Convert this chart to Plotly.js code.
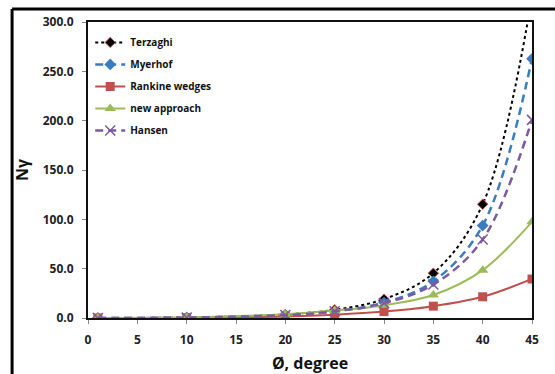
<!DOCTYPE html>
<html><head><meta charset="utf-8">
<script src="https://cdn.plot.ly/plotly-3.0.1.min.js"></script>
<style>html,body{margin:0;padding:0;background:#fff;}#chart{width:555px;height:374px;}</style>
</head><body><div id="chart"></div>
<script>
const phi = [1, 10, 20, 25, 30, 35, 40, 45];
const terzaghi = [0.01, 0.56, 3.64, 8.34, 19.13, 45.41, 115.31, 325.34];
const myerhof = [0.0, 0.37, 2.87, 6.77, 15.67, 37.15, 93.69, 262.74];
const rankine = [0.0, 0.3, 1.6, 3.4, 6.5, 12.0, 21.5, 39.5];
const newApproach = [0.0, 0.6, 3.9, 7.5, 13.0, 23.3, 48.5, 97.5];
const hansen = [0.0, 0.39, 2.95, 6.76, 15.07, 33.92, 79.54, 200.81];
const seriesNames = ['Terzaghi', 'Myerhof', 'Rankine wedges', 'new approach', 'Hansen'];
const yTicks = [0, 50, 100, 150, 200, 250, 300];
const xTicks = [0, 5, 10, 15, 20, 25, 30, 35, 40, 45];

const F = '"Open Sans", "Liberation Sans", Arial, sans-serif';
const traces = [
  {x: phi, y: terzaghi, name: seriesNames[0], legendgroup: 'a', mode: 'lines+markers', line: {color: '#000', dash: 'dot', width: 2, shape: 'spline'},
   marker: {symbol: 'diamond', size: 8, color: '#000', line: {color: '#e05050', width: 1}}},
  {x: phi, y: myerhof, name: seriesNames[1], legendgroup: 'b', mode: 'lines+markers', line: {color: '#3a7cc2', dash: '8px,5px', width: 2.5, shape: 'spline'},
   marker: {symbol: 'diamond', size: 9, color: '#3a7cc2'}},
  {x: phi, y: rankine, name: seriesNames[2], legendgroup: 'c', mode: 'lines+markers', line: {color: '#c0504d', width: 2, shape: 'spline'},
   marker: {symbol: 'square', size: 9, color: '#c0504d'}},
  {x: phi, y: newApproach, name: seriesNames[3], legendgroup: 'd', mode: 'lines+markers', line: {color: '#9bbb59', width: 2, shape: 'spline'},
   marker: {symbol: 'triangle-up', size: 10, color: '#9bbb59'}},
  {x: phi, y: hansen, name: seriesNames[4], legendgroup: 'e', mode: 'lines+markers', line: {color: '#7a5aa0', dash: '8px,5px', width: 2.5, shape: 'spline'},
   marker: {symbol: 'x-thin', size: 10, color: '#7a5aa0', line: {color: '#7a5aa0', width: 1.5}}}
];
const layout = {
  width: 555, height: 374,
  margin: {l: 88, r: 23, t: 22, b: 56},
  paper_bgcolor: '#fff', plot_bgcolor: '#fff',
  font: {family: F, color: '#222', size: 12},
  showlegend: true,
  legend: {x: 0.005, y: 0.98, xanchor: 'left', yanchor: 'top', bgcolor: 'rgba(0,0,0,0)',
    font: {family: F, size: 10, color: '#111', weight: 'bold'}, tracegroupgap: 3, itemwidth: 30},
  xaxis: {range: [0, 45], tickvals: xTicks, ticktext: xTicks.map(String), showgrid: false, zeroline: false,
    showline: true, linecolor: '#111', linewidth: 2, mirror: true, ticks: 'outside', ticklen: 4, tickcolor: '#888',
    ticklabelstandoff: 6,
    tickfont: {family: F, size: 12, weight: 'bold', color: '#222'},
    title: {text: 'Ø, degree', font: {family: F, size: 16, weight: 'bold', color: '#111'}, standoff: 14}},
  yaxis: {range: [0, 300], tickvals: yTicks, ticktext: yTicks.map(v => v.toFixed(1)), showgrid: false, zeroline: false,
    showline: true, linecolor: '#111', linewidth: 2, mirror: true, ticks: 'outside', ticklen: 4, tickcolor: '#888',
    ticklabelstandoff: 6,
    tickfont: {family: F, size: 12, weight: 'bold', color: '#222'},
    title: {text: 'Nγ', font: {family: F, size: 16, weight: 'bold', color: '#111'}, standoff: 10}},
  shapes: [
    {type: 'line', xref: 'paper', yref: 'paper', x0: -0.171, x1: -0.171, y0: 1.044, y1: -0.2, line: {color: '#000', width: 3}},
    {type: 'line', xref: 'paper', yref: 'paper', x0: -0.171, x1: 1.06, y0: 1.044, y1: 1.044, line: {color: '#000', width: 3}}
  ]
};
Plotly.newPlot('chart', traces, layout, {displayModeBar: false, staticPlot: true});
</script></body></html>
